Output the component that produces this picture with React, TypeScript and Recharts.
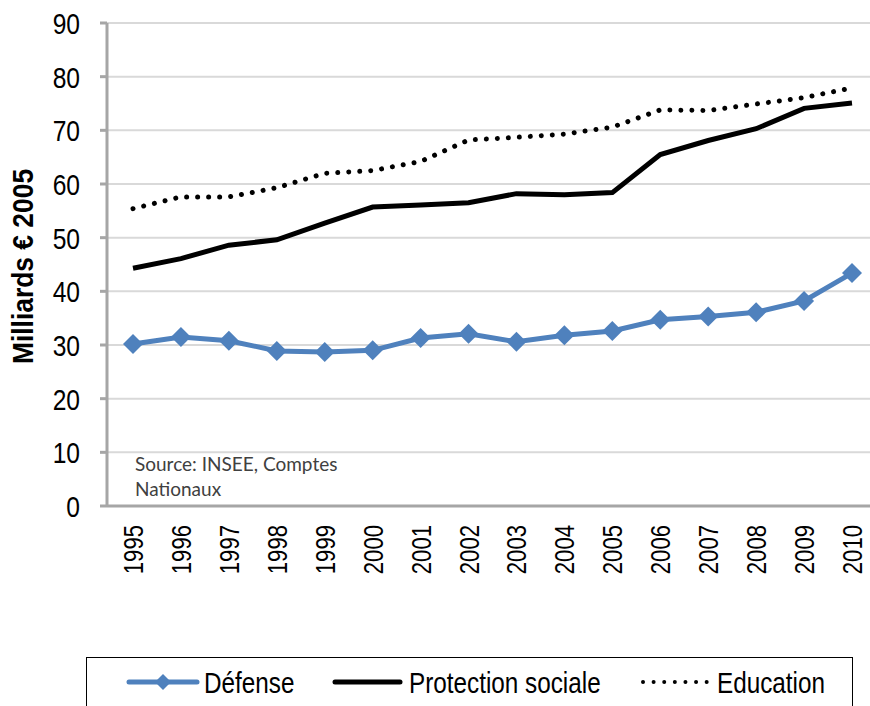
import React from 'react';
import { LineChart, Line, XAxis, YAxis, CartesianGrid, Legend } from 'recharts';

const years = [1995, 1996, 1997, 1998, 1999, 2000, 2001, 2002, 2003, 2004, 2005, 2006, 2007, 2008, 2009, 2010];
const defense = [30.2, 31.5, 30.8, 28.9, 28.7, 29.0, 31.3, 32.1, 30.6, 31.8, 32.6, 34.7, 35.3, 36.1, 38.2, 43.4];
const protectionSociale = [44.3, 46.1, 48.6, 49.6, 52.7, 55.7, 56.1, 56.5, 58.2, 58.0, 58.4, 65.5, 68.1, 70.3, 74.1, 75.1];
const education = [55.4, 57.6, 57.6, 59.3, 62.0, 62.5, 64.2, 68.2, 68.7, 69.3, 70.6, 73.8, 73.7, 74.9, 76.1, 77.9];
const yTicks = [0, 10, 20, 30, 40, 50, 60, 70, 80, 90];
const boundaryTicks = [1, 2, 3, 4, 5, 6, 7, 8, 9, 10, 11, 12, 13, 14, 15];

const data = years.map((y, i) => ({
  year: String(y),
  defense: defense[i],
  protection: protectionSociale[i],
  education: education[i],
}));

const BLUE = '#4f81bd';
const AXIS = '#a6a6a6';
const SANS = '"Liberation Sans", Arial, sans-serif';
// no Arial Narrow here: squeeze Liberation Sans horizontally instead
const SQUEEZE = 0.82;

const Diamond = (props: any) => {
  const { cx, cy, index } = props;
  if (cx == null || cy == null) return null;
  const r = 10;
  return (
    <polygon
      key={`d-${index}`}
      points={`${cx},${cy - r} ${cx + r},${cy} ${cx},${cy + r} ${cx - r},${cy}`}
      fill={BLUE}
    />
  );
};

const EmptyTick = () => <g />;

const YTick = (props: any) => {
  const { x, y, payload } = props;
  return (
    <text
      x={0}
      y={0}
      transform={`translate(${x},${y + 11}) scale(${SQUEEZE},1)`}
      textAnchor="end"
      fontSize={30}
      fontFamily={SANS}
      fill="#000"
    >
      {payload.value}
    </text>
  );
};

const XTick = (props: any) => {
  const { x, y, payload } = props;
  return (
    <text
      x={0}
      y={0}
      transform={`translate(${x + 10},${y + 11}) rotate(-90) scale(${SQUEEZE},1)`}
      textAnchor="end"
      fontSize={27}
      fontFamily={SANS}
      fill="#000"
    >
      {payload.value}
    </text>
  );
};

const YLabel = (props: any) => {
  const { viewBox } = props;
  const cy = viewBox.y + viewBox.height / 2 + 2;
  return (
    <text
      x={0}
      y={0}
      transform={`translate(33,${cy}) rotate(-90) scale(0.88,1)`}
      textAnchor="middle"
      fontSize={30}
      fontWeight="bold"
      fontFamily={SANS}
      fill="#000"
    >
      Milliards € 2005
    </text>
  );
};

const LegendText = ({ x, children }: { x: number; children: React.ReactNode }) => (
  <text x={0} y={0} transform={`translate(${x},35) scale(0.81,1)`} fontSize={30} fontFamily={SANS} fill="#000">
    {children}
  </text>
);

const renderLegend = () => (
  <div style={{ boxSizing: 'border-box', width: 767, height: 52, border: '1.5px solid #000' }}>
    <svg width={764} height={49} style={{ display: 'block' }}>
      <line x1={42} y1={24} x2={110} y2={24} stroke={BLUE} strokeWidth={5} strokeLinecap="round" />
      <polygon points="76,16 84,24 76,32 68,24" fill={BLUE} />
      <LegendText x={117}>Défense</LegendText>
      <line x1={248} y1={24} x2={313} y2={24} stroke="#000" strokeWidth={5} strokeLinecap="round" />
      <LegendText x={322}>Protection sociale</LegendText>
      <line x1={556} y1={24} x2={620} y2={24} stroke="#000" strokeWidth={4} strokeLinecap="round" strokeDasharray="0.01 10.6" />
      <LegendText x={630}>Education</LegendText>
    </svg>
  </div>
);

export default function App() {
  return (
    <div style={{ position: 'absolute', left: 0, top: 0, width: 870, height: 706, background: '#fff', overflow: 'hidden' }}>
      <LineChart width={870} height={706} data={data} margin={{ top: 23, right: 0, left: 0, bottom: 0 }}>
        <CartesianGrid horizontal vertical={false} stroke="#d9d9d9" strokeWidth={2} />
        <XAxis
          xAxisId="bounds"
          type="number"
          domain={[-0.04, 15.86]}
          allowDataOverflow
          ticks={boundaryTicks}
          height={0}
          axisLine={false}
          tick={<EmptyTick />}
          tickLine={{ stroke: AXIS, strokeWidth: 4 }}
          tickSize={7}
        />
        <XAxis
          dataKey="year"
          height={148}
          padding={{ left: 26, right: 18 }}
          axisLine={{ stroke: AXIS, strokeWidth: 3 }}
          tickLine={false}
          tick={<XTick />}
          interval={0}
        />
        <YAxis
          domain={[0, 90]}
          ticks={yTicks}
          width={107}
          axisLine={{ stroke: AXIS, strokeWidth: 3 }}
          tickLine={{ stroke: AXIS, strokeWidth: 3 }}
          tickSize={7}
          tickMargin={20}
          tick={<YTick />}
          label={<YLabel />}
        />
        <Legend verticalAlign="bottom" content={renderLegend} wrapperStyle={{ left: 86, width: 767, bottom: -3 }} />
        <Line
          dataKey="defense"
          name="Défense"
          stroke={BLUE}
          strokeWidth={5}
          dot={<Diamond />}
          isAnimationActive={false}
        />
        <Line
          dataKey="protection"
          name="Protection sociale"
          stroke="#000"
          strokeWidth={5}
          dot={false}
          isAnimationActive={false}
        />
        <Line
          dataKey="education"
          name="Education"
          stroke="#000"
          strokeWidth={5}
          strokeLinecap="round"
          strokeDasharray="0.01 11"
          dot={false}
          isAnimationActive={false}
        />
      </LineChart>
      <div
        style={{
          position: 'absolute',
          left: 135,
          top: 451,
          fontFamily: 'Lato, "Open Sans", sans-serif',
          fontSize: 19,
          lineHeight: '25px',
          color: '#404040',
        }}
      >
        Source: INSEE, Comptes
        <br />
        Nationaux
      </div>
    </div>
  );
}
